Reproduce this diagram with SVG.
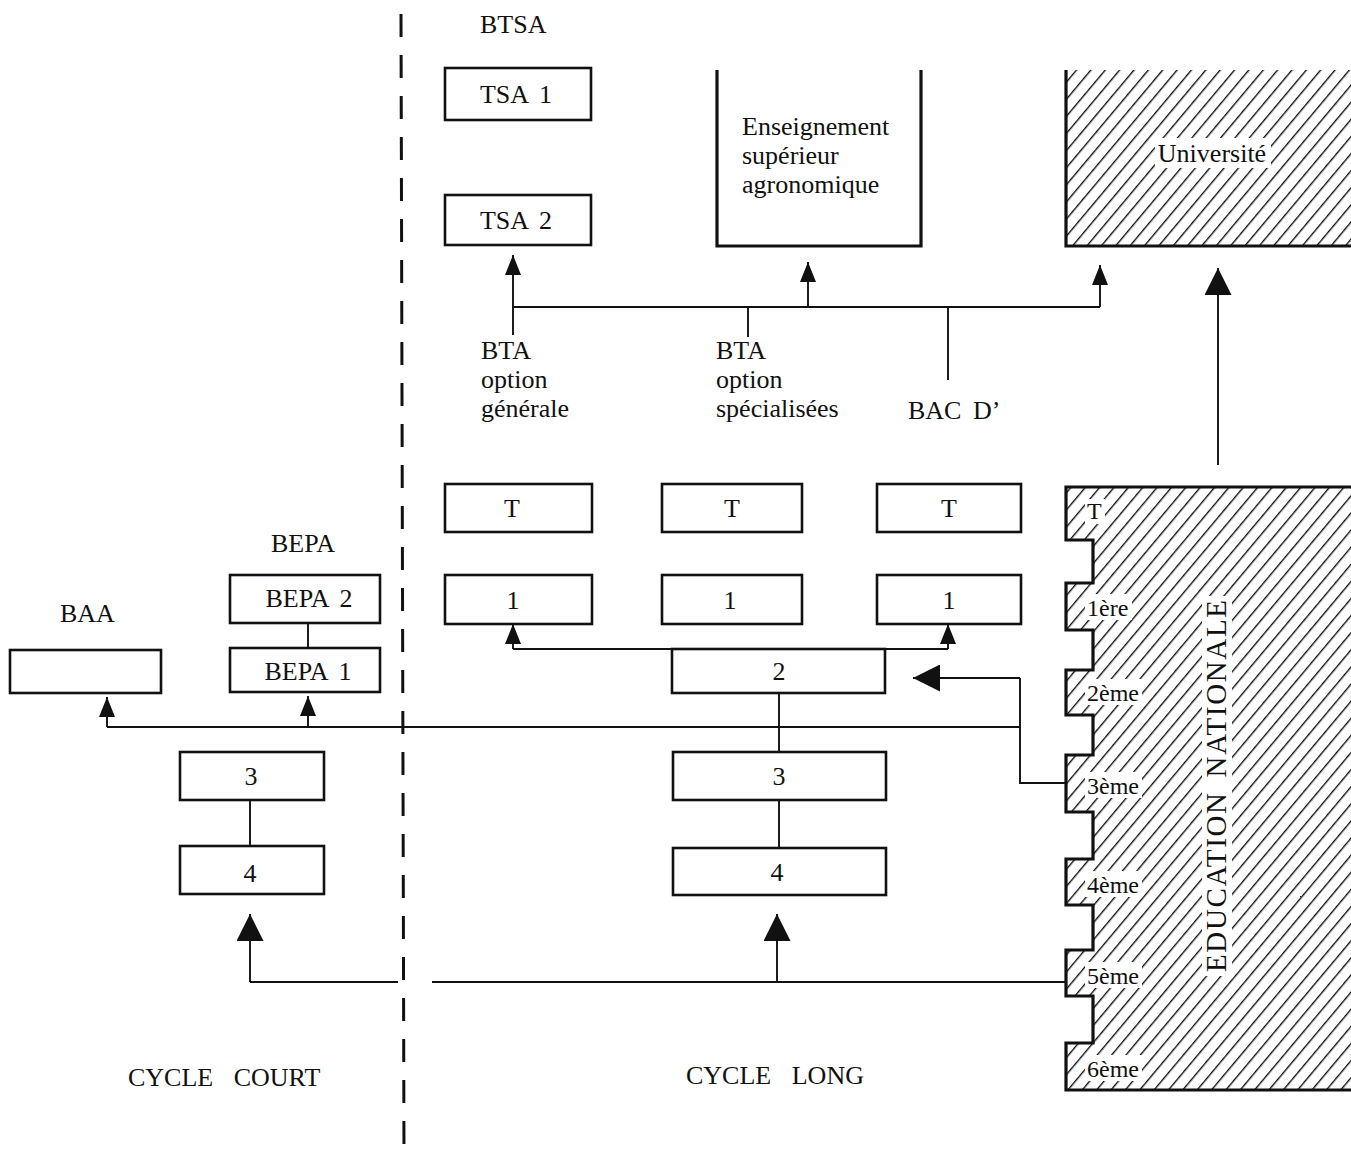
<svg xmlns="http://www.w3.org/2000/svg" width="1351" height="1156" viewBox="0 0 1351 1156">
<style>
text{font-family:"Liberation Serif","Times New Roman",serif;font-size:26px;fill:#111;word-spacing:5px}
.c{text-anchor:middle}
.sm{font-size:24px}
.ws{word-spacing:14px}
.bg{fill:#fff}
.box{fill:#fff;stroke:#111;stroke-width:2.6}
.thick{fill:none;stroke:#111;stroke-width:3.2}
.ln{fill:none;stroke:#111;stroke-width:1.9}
.as{marker-end:url(#arrowS)}
.al{marker-end:url(#arrowL)}
</style>
<defs>
<pattern id="hatch" width="11" height="11" patternUnits="userSpaceOnUse" patternTransform="rotate(40)">
<line x1="0.7" y1="0" x2="0.7" y2="11" stroke="#000" stroke-width="1.3"/>
</pattern>
<marker id="arrowS" markerUnits="userSpaceOnUse" markerWidth="20" markerHeight="16" refX="20" refY="8" orient="auto">
<path d="M0,0 L20,8 L0,16 z" fill="#111"/>
</marker>
<marker id="arrowL" markerUnits="userSpaceOnUse" markerWidth="27" markerHeight="27" refX="27" refY="13.5" orient="auto">
<path d="M0,0 L27,13.5 L0,27 z" fill="#111"/>
</marker>
</defs>
<rect width="1351" height="1156" fill="#fff"/>

<g id="divider">
<line x1="401" y1="14" x2="404" y2="1156" stroke="#111" stroke-width="3" stroke-dasharray="23 18"/>
</g>

<g id="universite">
<rect x="1066" y="70" width="285" height="176" fill="url(#hatch)"/>
<path class="thick" d="M1066,70 V246 H1351"/>
<rect class="bg" x="1155" y="138" width="116" height="30"/>
<text class="c" x="1212" y="162">Université</text>
</g>

<g id="education-nationale">
<path fill="url(#hatch)" d="M1351,487 H1066 V540 H1093 V583 H1066 V630 H1093 V670 H1066 V715 H1093 V755 H1066 V812 H1093 V859 H1066 V905 H1093 V950 H1066 V996 H1093 V1043 H1066 V1090 H1351 Z"/>
<path class="thick" d="M1351,487 H1066 V540 H1093 V583 H1066 V630 H1093 V670 H1066 V715 H1093 V755 H1066 V812 H1093 V859 H1066 V905 H1093 V950 H1066 V996 H1093 V1043 H1066 V1090 H1351"/>
<rect class="bg" x="1085" y="499" width="20" height="25"/>
<rect class="bg" x="1085" y="594" width="47" height="26"/>
<rect class="bg" x="1085" y="679" width="57" height="26"/>
<rect class="bg" x="1085" y="772" width="57" height="26"/>
<rect class="bg" x="1085" y="871" width="57" height="26"/>
<rect class="bg" x="1085" y="962" width="57" height="26"/>
<rect class="bg" x="1085" y="1055" width="57" height="26"/>
<rect class="bg" x="1202" y="596" width="30" height="380"/>
<text class="sm" x="1087" y="519">T</text>
<text class="sm" x="1087" y="616">1ère</text>
<text class="sm" x="1087" y="701">2ème</text>
<text class="sm" x="1087" y="794">3ème</text>
<text class="sm" x="1087" y="893">4ème</text>
<text class="sm" x="1087" y="984">5ème</text>
<text class="sm" x="1087" y="1077">6ème</text>
<text style="font-size:29px" transform="translate(1226,972) rotate(-90)" x="0" y="0" textLength="372" lengthAdjust="spacing">EDUCATION  NATIONALE</text>
</g>

<g id="btsa">
<text x="480" y="33">BTSA</text>
</g>
<g id="tsa1">
<rect class="box" x="445" y="68" width="146" height="52"/>
<text class="c" x="516" y="103">TSA 1</text>
</g>
<g id="tsa2">
<rect class="box" x="445" y="195" width="146" height="50"/>
<text class="c" x="516" y="229">TSA 2</text>
</g>
<g id="enseignement">
<path class="thick" d="M717,70 V246 H921 V70"/>
<text x="742" y="135">Enseignement</text>
<text x="742" y="164">supérieur</text>
<text x="742" y="193">agronomique</text>
</g>

<g id="bta-generale">
<text x="481" y="359">BTA</text>
<text x="481" y="388">option</text>
<text x="481" y="417">générale</text>
</g>
<g id="bta-specialisees">
<text x="716" y="359">BTA</text>
<text x="716" y="388">option</text>
<text x="716" y="417">spécialisées</text>
</g>
<g id="bac-d">
<text x="908" y="419">BAC D’</text>
</g>

<g id="t-1"><rect class="box" x="445" y="484" width="147" height="48"/><text class="c" x="512" y="517">T</text></g>
<g id="t-2"><rect class="box" x="662" y="484" width="140" height="48"/><text class="c" x="732" y="517">T</text></g>
<g id="t-3"><rect class="box" x="877" y="484" width="144" height="48"/><text class="c" x="949" y="517">T</text></g>
<g id="p1-1"><rect class="box" x="445" y="575" width="147" height="49"/><text class="c" x="513" y="609">1</text></g>
<g id="p1-2"><rect class="box" x="662" y="575" width="140" height="49"/><text class="c" x="730" y="609">1</text></g>
<g id="p1-3"><rect class="box" x="877" y="575" width="144" height="49"/><text class="c" x="949" y="609">1</text></g>
<g id="long-2"><rect class="box" x="672" y="649" width="213" height="44"/><text class="c" x="779" y="680">2</text></g>
<g id="long-3"><rect class="box" x="673" y="752" width="213" height="48"/><text class="c" x="779" y="785">3</text></g>
<g id="long-4"><rect class="box" x="673" y="848" width="213" height="47"/><text class="c" x="777" y="881">4</text></g>

<g id="baa">
<text x="60" y="622">BAA</text>
<rect class="box" x="10" y="650" width="151" height="43"/>
</g>
<g id="bepa-label"><text x="271" y="552">BEPA</text></g>
<g id="bepa2"><rect class="box" x="230" y="575" width="150" height="48"/><text class="c" x="309" y="607">BEPA 2</text></g>
<g id="bepa1"><rect class="box" x="230" y="648" width="150" height="44"/><text class="c" x="308" y="680">BEPA 1</text></g>
<g id="court-3"><rect class="box" x="180" y="752" width="144" height="48"/><text class="c" x="251" y="785">3</text></g>
<g id="court-4"><rect class="box" x="180" y="846" width="144" height="48"/><text class="c" x="250" y="882">4</text></g>

<g id="cycle-court"><text class="ws" x="128" y="1086">CYCLE COURT</text></g>
<g id="cycle-long"><text class="ws" x="686" y="1084">CYCLE LONG</text></g>

<g id="connectors">
<path class="ln as" d="M513,335 V255"/>
<path class="ln" d="M513,307 H1100"/>
<path class="ln as" d="M1100,307 V265"/>
<path class="ln as" d="M808,307 V262"/>
<path class="ln" d="M748,307 V337"/>
<path class="ln" d="M948,307 V380"/>
<path class="ln al" d="M1218,465 V268"/>
<path class="ln" d="M513,649 H948"/>
<path class="ln as" d="M513,649 V624"/>
<path class="ln as" d="M948,649 V624"/>
<path class="ln al" d="M1020,678 H913"/>
<path class="ln" d="M1020,678 V783 H1066"/>
<path class="ln" d="M107,727 H1020"/>
<path class="ln as" d="M107,727 V697"/>
<path class="ln as" d="M308,727 V696"/>
<path class="ln" d="M779,693 V752"/>
<path class="ln" d="M779,800 V848"/>
<path class="ln" d="M250,800 V846"/>
<path class="ln" d="M308,623 V648"/>
<path class="ln al" d="M250,982 V914"/>
<path class="ln al" d="M777,982 V914"/>
<path class="ln" d="M250,982 H398"/>
<path class="ln" d="M432,982 H1066"/>
</g>
</svg>
